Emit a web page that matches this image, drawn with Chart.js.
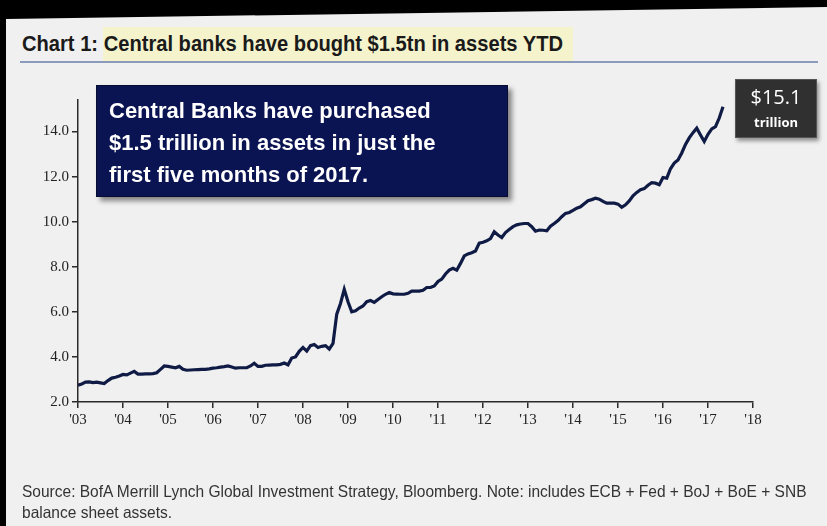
<!DOCTYPE html>
<html>
<head>
<meta charset="utf-8">
<script src="https://cdn.jsdelivr.net/npm/chart.js@4.4.1/dist/chart.umd.min.js"></script>
<style>
	body { margin: 0; background: #000; width: 827px; height: 526px; overflow: hidden; position: relative; }
	#panel { position: absolute; left: 0; top: 0; width: 827px; height: 526px; background: #f0f0f0;
		clip-path: polygon(6px 19px, 827px 7px, 827px 526px, 6px 526px); }
	#chartWrap { position: absolute; left: 0; top: 0; width: 827px; height: 526px; }
	.title { position: absolute; left: 22px; top: 31px; font-family: "Liberation Sans", Arial, sans-serif;
		font-weight: bold; font-size: 22px; color: #1a1a1a; white-space: nowrap;
		transform: scaleX(0.915); transform-origin: left top; }
	.hl { position: absolute; left: 103px; top: 27px; width: 470px; height: 34px; background: #f5f3cc; }
	.rule { position: absolute; left: 20px; top: 61px; width: 798px; height: 2px; background: #8b9bbb; }
	.note { position: absolute; left: 96px; top: 85px; width: 412px; height: 112px; background: #0b1452;
		box-shadow: 4px 4px 5px rgba(0,0,0,0.45); border: 1px solid #060b30; box-sizing: border-box;
		font-family: "Liberation Sans", Arial, sans-serif; font-weight: bold; font-size: 22px; color: #fff;
		line-height: 32px; padding: 9px 0 0 12px; }
	.tag { position: absolute; left: 735px; top: 79px; width: 82px; height: 59px; background: #303030;
		border: 1px solid #555; box-sizing: border-box; box-shadow: 2px 3px 4px rgba(0,0,0,0.4);
		color: #fff; text-align: center; font-family: "Open Sans", "Noto Sans", sans-serif; }
	.tag .big { font-size: 20px; line-height: 24px; margin-top: 5px; }
	.tag .small { font-size: 13px; font-weight: bold; line-height: 16px; margin-top: 5px; }
	.src { position: absolute; left: 22px; top: 481px; font-family: "Liberation Sans", Arial, sans-serif;
		font-size: 16.5px; color: #333; line-height: 21px; white-space: nowrap;
		transform: scaleX(0.94); transform-origin: left top; }
</style>
</head>
<body>
<div id="panel"></div>
<div class="hl"></div>
<div class="title">Chart 1: Central banks have bought $1.5tn in assets YTD</div>
<div class="rule"></div>
<div id="chartWrap"><canvas id="assetsChart" width="827" height="526"></canvas></div>
<div class="note">Central Banks have purchased<br>$1.5 trillion in assets in just the<br>first five months of 2017.</div>
<div class="tag"><div class="big">$15.1</div><div class="small">trillion</div></div>
<div class="src">Source: BofA Merrill Lynch Global Investment Strategy, Bloomberg. Note: includes ECB + Fed + BoJ + BoE + SNB<br>balance sheet assets.</div>
<script>
// monthly series, Jan 2003 .. May 2017, $ trillion
var startYear = 2003;
var assets2003 = [2.74, 2.80, 2.88, 2.89, 2.86, 2.88, 2.85, 2.82, 2.95, 3.06, 3.10, 3.15];
var assets2004 = [3.22, 3.20, 3.28, 3.36, 3.24, 3.24, 3.25, 3.25, 3.26, 3.30, 3.45, 3.60];
var assets2005 = [3.58, 3.55, 3.52, 3.58, 3.45, 3.41, 3.42, 3.43, 3.44, 3.45, 3.45, 3.47];
var assets2006 = [3.50, 3.52, 3.55, 3.57, 3.60, 3.55, 3.50, 3.52, 3.52, 3.52, 3.60, 3.72];
var assets2007 = [3.58, 3.58, 3.63, 3.64, 3.65, 3.65, 3.67, 3.73, 3.65, 3.95, 4.00, 4.25];
var assets2008 = [4.42, 4.26, 4.50, 4.55, 4.42, 4.47, 4.50, 4.35, 4.60, 5.90, 6.37, 7.00];
var assets2009 = [6.45, 6.00, 6.05, 6.17, 6.26, 6.45, 6.50, 6.42, 6.55, 6.67, 6.78, 6.86];
var assets2010 = [6.80, 6.79, 6.78, 6.78, 6.82, 6.92, 6.92, 6.92, 6.96, 7.08, 7.08, 7.15];
var assets2011 = [7.35, 7.45, 7.68, 7.85, 7.93, 7.85, 8.15, 8.48, 8.57, 8.62, 8.70, 9.05];
var assets2012 = [9.09, 9.15, 9.25, 9.55, 9.41, 9.30, 9.52, 9.65, 9.78, 9.86, 9.90, 9.92];
var assets2013 = [9.92, 9.78, 9.58, 9.63, 9.62, 9.60, 9.80, 9.92, 10.05, 10.22, 10.37, 10.41];
var assets2014 = [10.50, 10.60, 10.66, 10.80, 10.93, 10.98, 11.04, 11.00, 10.90, 10.82, 10.82, 10.82];
var assets2015 = [10.78, 10.64, 10.75, 10.92, 11.15, 11.30, 11.42, 11.47, 11.62, 11.73, 11.71, 11.64];
var assets2016 = [11.96, 11.93, 12.35, 12.60, 12.74, 13.05, 13.43, 13.72, 13.95, 14.15, 13.85, 13.56];
var assets2017 = [13.88, 14.12, 14.22, 14.60, 15.10];
var yTicks = [2, 4, 6, 8, 10, 12, 14];
var xYears = [2003, 2004, 2005, 2006, 2007, 2008, 2009, 2010, 2011, 2012, 2013, 2014, 2015, 2016, 2017, 2018];

var allAssets = [].concat(assets2003, assets2004, assets2005, assets2006, assets2007, assets2008, assets2009,
	assets2010, assets2011, assets2012, assets2013, assets2014, assets2015, assets2016, assets2017);
var points = allAssets.map(function (v, i) { return { x: startYear + i / 12, y: v }; });

var tickFont = { family: '"Liberation Serif", "DejaVu Serif", serif', size: 15 };
var axisColor = '#2a2a2a';

var ctx = document.getElementById('assetsChart').getContext('2d');
var assetsChart = new Chart(ctx, {
	type: 'line',
	data: {
		datasets: [{
			label: 'Central bank assets',
			data: points,
			borderColor: '#0f1b45',
			borderWidth: 3.2,
			pointRadius: 0,
			tension: 0,
			fill: false
		}]
	},
	options: {
		responsive: false,
		animation: false,
		layout: { padding: { left: 30, right: 74, top: 100, bottom: 92 } },
		plugins: { legend: { display: false }, tooltip: { enabled: false } },
		scales: {
			x: {
				type: 'linear',
				min: xYears[0],
				max: xYears[xYears.length - 1],
				afterFit: function (s) { s.height = 32; },
				afterBuildTicks: function (s) { s.ticks = xYears.map(function (y) { return { value: y }; }); },
				ticks: {
					font: tickFont, color: '#222', padding: 3, maxRotation: 0, autoSkip: false,
					callback: function (v) { return "'" + String(v).slice(2); }
				},
				grid: { drawOnChartArea: false, drawTicks: true, tickLength: 6, color: axisColor, lineWidth: 1.5 },
				border: { color: axisColor, width: 1.5 }
			},
			y: {
				min: 2,
				max: 15.4,
				afterFit: function (s) { s.width = 48; },
				afterBuildTicks: function (s) { s.ticks = yTicks.map(function (v) { return { value: v }; }); },
				ticks: {
					font: tickFont, color: '#222', padding: 3,
					callback: function (v) { return v.toFixed(1); }
				},
				grid: { drawOnChartArea: false, drawTicks: true, tickLength: 6, color: axisColor, lineWidth: 1.5 },
				border: { color: axisColor, width: 1.5 }
			}
		}
	}
});
</script>
</body>
</html>
